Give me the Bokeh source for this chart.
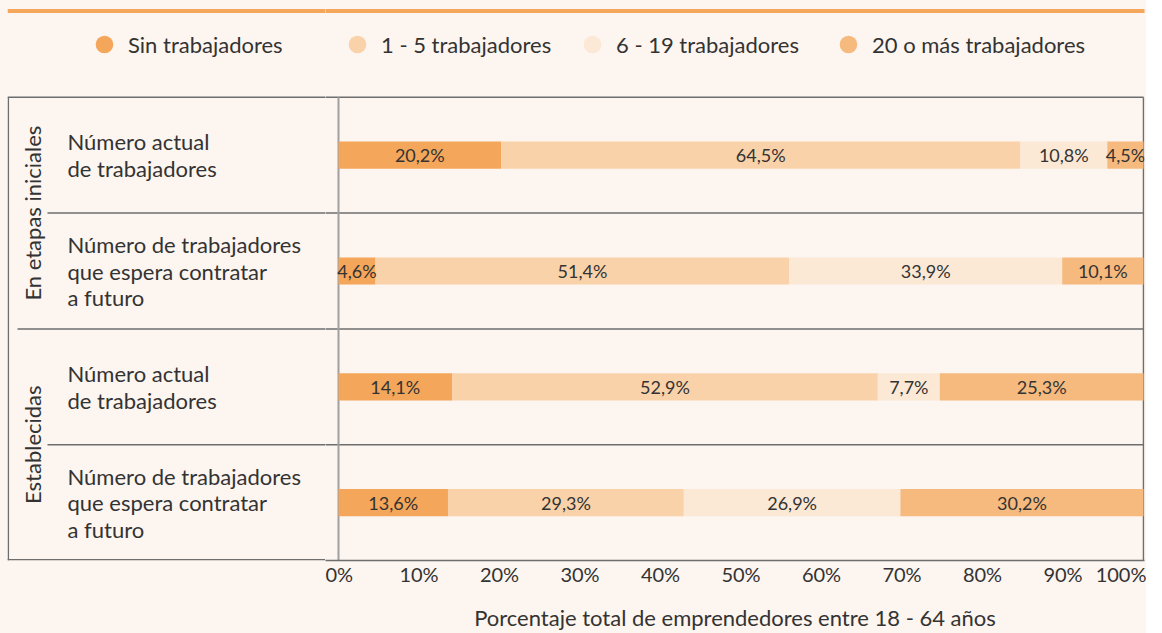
import math
from bokeh.plotting import figure
from bokeh.layouts import row
from bokeh.models import Range1d, ColumnDataSource, Legend, LegendItem, FixedTicker
from bokeh.core.properties import value
from bokeh.embed import file_html
from bokeh.resources import INLINE

# ---------------- data ----------------
groups = ["En etapas iniciales", "Establecidas"]
group_rows = [[0, 1], [2, 3]]
row_labels = [
    "Número actual\nde trabajadores",
    "Número de trabajadores\nque espera contratar\na futuro",
    "Número actual\nde trabajadores",
    "Número de trabajadores\nque espera contratar\na futuro",
]
categories = ["Sin trabajadores", "1 - 5 trabajadores", "6 - 19 trabajadores", "20 o más trabajadores"]
sin_trab = [20.2, 4.6, 14.1, 13.6]
trab_1_5 = [64.5, 51.4, 52.9, 29.3]
trab_6_19 = [10.8, 33.9, 7.7, 26.9]
trab_20 = [4.5, 10.1, 25.3, 30.2]
x_ticks = [0, 10, 20, 30, 40, 50, 60, 70, 80, 90, 100]
x_title = "Porcentaje total de emprendedores entre 18 - 64 años"

# ---------------- style ----------------
FONT = "Lato"
BG = "#FDF5EF"
TXT = "#333333"
LINE = "#6e6e6e"
colors = ["#F4A65A", "#F9D2AA", "#FBE8D5", "#F6BA7F"]
# legend entries: (figure index, px offset from that figure's frame left)
legend_pos = [(0, 75), (1, 10), (1, 245), (1, 501)]

series = [sin_trab, trab_1_5, trab_6_19, trab_20]
n_rows = len(row_labels)
row_y = list(range(n_rows))

HEIGHT = 633
BOTTOM = 72
FRAME_H = HEIGHT - BOTTOM
PX = 8.05                        # pixels per percent
UNIT = (FRAME_H - 97) / n_rows   # pixels per row
Y_BOTTOM = n_rows - 0.5
Y_TOP = Y_BOTTOM - FRAME_H / UNIT
top_y = Y_BOTTOM - (FRAME_H - 10.5) / UNIT
bot_y = Y_BOTTOM - 0.75 / UNIT

SPLIT = 13                        # px left of the 0% line where the panels meet
LX0, LX1 = -331 / PX, -SPLIT / PX  # left panel (labels)
RX0, RX1 = -SPLIT / PX, 806 / PX   # right panel (bars)


def base_fig(width, x0, x1, left, right):
    f = figure(width=width, height=HEIGHT, x_range=Range1d(x0, x1), y_range=Range1d(Y_BOTTOM, Y_TOP),
               output_backend="svg", toolbar_location=None, y_axis_location=None,
               min_border_left=left, min_border_right=right, min_border_top=0, min_border_bottom=BOTTOM)
    f.background_fill_color = BG
    f.border_fill_color = BG
    f.outline_line_color = None
    f.grid.visible = False
    return f


pl = base_fig(338 - SPLIT, LX0, LX1, 7, 0)
pl.xaxis.visible = False
pr = base_fig(1146 - 338 + SPLIT, RX0, RX1, 0, 2)
figs = [pl, pr]

sep_y = [i + 0.5 for i in range(n_rows - 1)]

# ---- left panel ----
pl.segment(x0=[LX0], x1=[LX1 + 1], y0=[top_y], y1=[top_y], line_color=colors[0], line_width=4)
pl.segment(x0=[LX0 + 0.1, LX0, LX0], x1=[LX0 + 0.1, LX1 + 1, LX1 + 1],
           y0=[-0.5, -0.5, bot_y], y1=[Y_BOTTOM, -0.5, bot_y], line_color=LINE, line_width=1.5)
sep_x0 = [-291 / PX if (i + 1) % 2 else -321 / PX for i in range(n_rows - 1)]
pl.segment(x0=sep_x0, x1=[LX1 + 1] * len(sep_y), y0=sep_y, y1=sep_y, line_color=LINE, line_width=1.5)

pl.text(x=[-271 / PX] * n_rows, y=row_y, text=row_labels, text_align="left", text_baseline="middle",
        text_font=value(FONT), text_font_size="22px", text_color=TXT, text_line_height=0.985)

gy = [sum(g) / len(g) for g in group_rows]
pl.text(x=[-306 / PX] * len(groups), y=gy, text=groups, angle=math.pi / 2, text_align="center",
        text_baseline="middle", text_font=value(FONT), text_font_size="22px", text_color=TXT)

# ---- right panel ----
pr.segment(x0=[RX0 - 1], x1=[100.2], y0=[top_y], y1=[top_y], line_color=colors[0], line_width=4)
pr.segment(x0=[RX0 - 1, 100.0], x1=[100.0, 100.0], y0=[-0.5, -0.5], y1=[-0.5, Y_BOTTOM],
           line_color=LINE, line_width=1.5)
pr.segment(x0=[RX0 - 1] * len(sep_y), x1=[100.0] * len(sep_y), y0=sep_y, y1=sep_y,
           line_color=LINE, line_width=1.5)
pr.segment(x0=[0], x1=[0], y0=[-0.5], y1=[Y_BOTTOM], line_color="#a0a0a0", line_width=2)

data = {"y": row_y}
for c, s in zip(categories, series):
    data[c] = s
src = ColumnDataSource(data)
pr.hbar_stack(categories, y="y", height=0.235, color=colors, line_color=None, source=src)

lx, ly, lt = [], [], []
for r in range(n_rows):
    left = 0.0
    for s in series:
        v = s[r]
        lx.append(left + v / 2)
        ly.append(r)
        lt.append(f"{v:.1f}".replace(".", ",") + "%")
        left += v
pr.text(x=lx, y=ly, text=lt, text_align="center", text_baseline="middle",
        text_font=value(FONT), text_font_size="18px", text_color=TXT)

# ---- legend (circle markers), one entry each ----
for c, col, (fi, lxp) in zip(categories, colors, legend_pos):
    f = figs[fi]
    r = f.scatter(x=[float("nan")], y=[float("nan")], marker="circle", size=18,
                  fill_color=col, line_color=None)
    leg = Legend(items=[LegendItem(label=c, renderers=[r])], orientation="horizontal",
                 location=(lxp, FRAME_H - 67),
                 glyph_width=44, glyph_height=44, label_standoff=2, spacing=0,
                 padding=0, margin=0, background_fill_alpha=0, border_line_alpha=0,
                 label_text_font=FONT, label_text_font_size="22px", label_text_color=TXT)
    f.add_layout(leg)

# ---- x axis ----
ax = pr.xaxis[0]
ax.ticker = FixedTicker(ticks=x_ticks)
ax.major_label_overrides = {t: f"{t}%" for t in x_ticks}
ax.major_tick_line_color = None
ax.major_tick_out = 0
ax.major_tick_in = 0
ax.minor_tick_line_color = None
ax.minor_tick_out = 0
ax.axis_line_color = LINE
ax.axis_line_width = 1.5
ax.major_label_text_font = FONT
ax.major_label_text_font_size = "20px"
ax.major_label_text_color = TXT
ax.major_label_standoff = 1
ax.axis_label = x_title
ax.axis_label_text_font = FONT
ax.axis_label_text_font_size = "22px"
ax.axis_label_text_font_style = "normal"
ax.axis_label_text_color = TXT
ax.axis_label_standoff = 15

layout = row(pl, pr, spacing=0, styles={"background-color": BG})
open("out.html", "w").write(file_html(layout, INLINE))
